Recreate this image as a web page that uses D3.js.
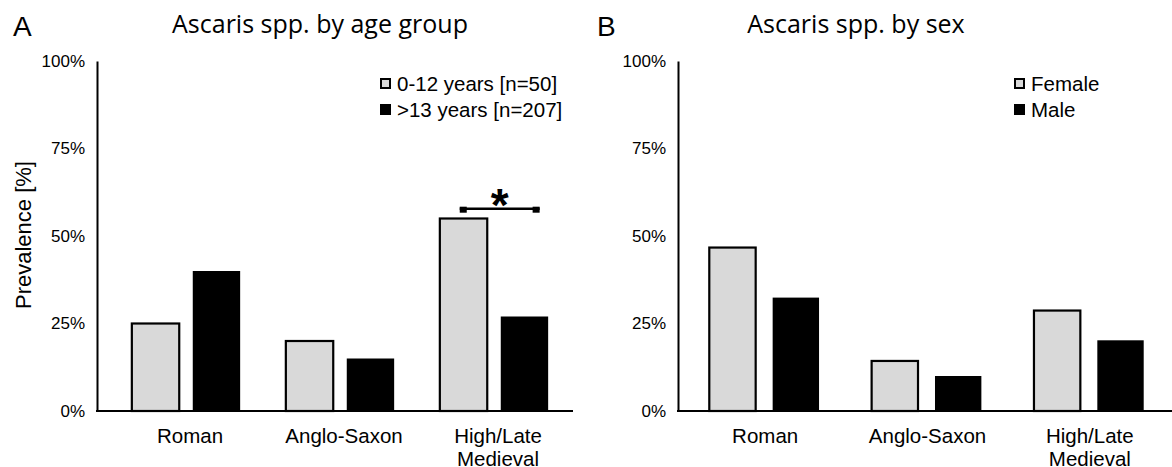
<!DOCTYPE html>
<html>
<head>
<meta charset="utf-8">
<script src="https://cdn.jsdelivr.net/npm/d3@7"></script>
<style>
  body { margin: 0; background: #fff; }
  svg { display: block; }
  .tick text { font-family: "Liberation Sans", Arial, sans-serif; fill: #000; }
</style>
</head>
<body>
<svg id="chart" width="1172" height="467"></svg>
<script>
// Data
const categories = ["Roman", "Anglo-Saxon", "High/Late Medieval"];
const ageYoung = [25, 20, 55];       // 0-12 years
const ageOld = [40, 15, 27];         // >13 years
const sexFemale = [46.7, 14.3, 28.7];
const sexMale = [32.4, 10.0, 20.2];
const yTicks = [0, 25, 50, 75, 100];
const ageLegend = ["0-12 years [n=50]", ">13 years [n=207]"];
const sexLegend = ["Female", "Male"];
const ageSignif = { category: "High/Late Medieval", level: 57.8, label: "*" };

const fills = ["#d9d9d9", "#000000"];
const font = '"Liberation Sans", Arial, sans-serif';

const svg = d3.select("#chart");

const y = d3.scaleLinear()
            .domain([0, 100])
            .range([411, 61]);

function drawPanel(p) {
  const g = svg.append("g").attr("class", "panel");

  let x0 = d3.scaleBand()
             .domain(categories)
             .range(p.bandRange);
  let x1 = d3.scaleBand()
             .domain([0, 1])
             .range([0, x0.bandwidth()])
             .paddingInner(p.innerPad)
             .paddingOuter(p.outerPad);

  // panel letter and title
  g.append("text")
   .attr("x", p.letterX).attr("y", 36)
   .attr("font-family", font).attr("font-size", 28)
   .text(p.letter);
  g.append("text")
   .attr("x", p.titleX).attr("y", 33)
   .attr("text-anchor", "middle")
   .attr("font-family", '"Open Sans", sans-serif').attr("font-size", 25)
   .text(p.title);

  // y axis
  let yAxis = d3.axisLeft(y)
                .tickValues(yTicks)
                .tickSize(0)
                .tickPadding(12)
                .tickFormat(d => d + "%");
  let ya = g.append("g")
            .attr("transform", `translate(${p.axisX},0)`)
            .call(yAxis);
  ya.select(".domain").attr("stroke", "#000").attr("stroke-width", 2);
  ya.selectAll(".tick text").attr("font-size", 17);

  // bars
  let series = [p.a, p.b];
  series.forEach((vals, si) => {
    g.selectAll(null)
     .data(categories)
     .enter().append("rect")
     .attr("x", c => x0(c) + x1(si))
     .attr("y", (c, i) => y(vals[i]))
     .attr("width", x1.bandwidth())
     .attr("height", (c, i) => y(0) - y(vals[i]))
     .attr("fill", fills[si])
     .attr("stroke", "#000")
     .attr("stroke-width", si === 0 ? 2.2 : 0);
  });

  // x axis baseline
  g.append("line")
   .attr("x1", p.axisX - 1).attr("x2", p.axisEnd)
   .attr("y1", y(0)).attr("y2", y(0))
   .attr("stroke", "#000").attr("stroke-width", 2);

  // category labels
  let xAxis = d3.axisBottom(x0).tickSize(0).tickPadding(0);
  let xa = g.append("g")
            .attr("transform", `translate(${p.labelDx},${y(0)})`)
            .call(xAxis);
  xa.select(".domain").remove();
  xa.selectAll(".tick text")
    .attr("font-size", 20.5)
    .each(function(d) {
      let t = d3.select(this).text(null).attr("y", 0).attr("dy", null);
      d.split(" ").forEach((w, i) => {
        t.append("tspan").attr("x", 0).attr("y", 32 + i * 23).text(w);
      });
    });

  // legend
  let lg = g.append("g").attr("transform", `translate(${p.legendX},${p.legendY})`);
  p.legend.forEach((label, i) => {
    lg.append("rect")
      .attr("x", 1).attr("y", i * 26 + 1)
      .attr("width", 9).attr("height", 9)
      .attr("fill", fills[i])
      .attr("stroke", "#000").attr("stroke-width", 2);
    lg.append("text")
      .attr("x", 17).attr("y", i * 26 + 13)
      .attr("font-family", font).attr("font-size", 20.5)
      .text(label);
  });

  // significance bracket
  if (p.signif) {
    let s = p.signif;
    let bx1 = x0(s.category) + x1(0) + x1.bandwidth() * 0.42;
    let bx2 = x0(s.category) + x1(1) + x1.bandwidth() * 0.82;
    let by = y(s.level);
    g.append("line")
     .attr("x1", bx1).attr("x2", bx2)
     .attr("y1", by).attr("y2", by)
     .attr("stroke", "#000").attr("stroke-width", 2.5);
    [bx1, bx2 - 7].forEach(bx => {
      g.append("rect")
       .attr("x", bx).attr("y", by - 2)
       .attr("width", 7).attr("height", 6)
       .attr("fill", "#000");
    });
    g.append("text")
     .attr("x", (bx1 + bx2) / 2).attr("y", by + 12)
     .attr("text-anchor", "middle")
     .attr("font-family", font).attr("font-weight", "bold").attr("font-size", 46)
     .text(s.label);
  }
}

drawPanel({
  letter: "A", letterX: 13, title: "Ascaris spp. by age group", titleX: 320,
  axisX: 97, axisEnd: 573, bandRange: [109, 571], innerPad: 0.222, outerPad: 0.375,
  labelDx: 4,
  a: ageYoung, b: ageOld, legend: ageLegend, legendX: 380, legendY: 78,
  signif: ageSignif
});

drawPanel({
  letter: "B", letterX: 597, title: "Ascaris spp. by sex", titleX: 856,
  axisX: 678, axisEnd: 1172, bandRange: [683, 1170], innerPad: 0.268, outerPad: 0.415,
  labelDx: 1,
  a: sexFemale, b: sexMale, legend: sexLegend, legendX: 1014, legendY: 78,
  signif: null
});

// y axis title
svg.append("text")
   .attr("transform", "translate(31,235) rotate(-90)")
   .attr("text-anchor", "middle")
   .attr("font-family", font).attr("font-size", 22)
   .text("Prevalence [%]");
</script>
</body>
</html>
